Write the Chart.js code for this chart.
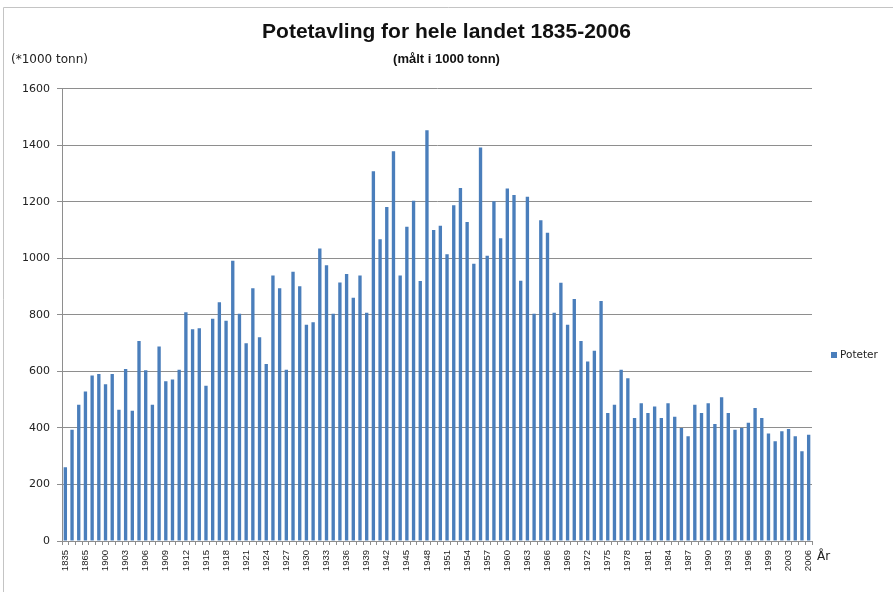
<!DOCTYPE html>
<html>
<head>
<meta charset="utf-8">
<script src="https://cdn.jsdelivr.net/npm/chart.js@4"></script>
<style>
    body { margin: 0; background: #fff; }
    #wrap { width: 893px; height: 592px; }
</style>
</head>
<body>
<div id="wrap"><canvas id="potet-chart" width="893" height="592"></canvas></div>
<script>
// ===== DATA =====
const years = [
    '1835', '1845', '1855', '1865', '1875', '1890',
    '1900', '1901', '1902', '1903', '1904', '1905', '1906', '1907', '1908', '1909',
    '1910', '1911', '1912', '1913', '1914', '1915', '1916', '1917', '1918', '1919',
    '1920', '1921', '1922', '1923', '1924', '1925', '1926', '1927', '1928', '1929',
    '1930', '1931', '1932', '1933', '1934', '1935', '1936', '1937', '1938', '1939',
    '1940', '1941', '1942', '1943', '1944', '1945', '1946', '1947', '1948', '1949',
    '1950', '1951', '1952', '1953', '1954', '1955', '1956', '1957', '1958', '1959',
    '1960', '1961', '1962', '1963', '1964', '1965', '1966', '1967', '1968', '1969',
    '1970', '1971', '1972', '1973', '1974', '1975', '1976', '1977', '1978', '1979',
    '1980', '1981', '1982', '1983', '1984', '1985', '1986', '1987', '1988', '1989',
    '1990', '1991', '1992', '1993', '1994', '1995', '1996', '1997', '1998', '1999',
    '2001', '2002', '2003', '2004', '2005', '2006'
];

// harvest in 1000 tonn
const poteter = [
    261, 394, 482, 529, 586, 591,
    555, 591, 464, 609, 461, 708, 604, 482, 688, 565,
    571, 606, 809, 749, 753, 549, 786, 845, 779, 992,
    804, 700, 894, 721, 626, 939, 894, 606, 953, 901,
    765, 774, 1035, 976, 804, 915, 945, 861, 939, 808,
    1308, 1068, 1182, 1379, 939, 1112, 1204, 920, 1453, 1100,
    1115, 1015, 1188, 1249, 1129, 981, 1392, 1009, 1202, 1071,
    1247, 1224, 921, 1218, 804, 1135, 1091, 808, 914, 765,
    856, 708, 635, 673, 849, 453, 482, 606, 576, 435,
    487, 453, 476, 435, 487, 440, 400, 371, 482, 453,
    487, 414, 509, 453, 394, 400, 418, 471, 435, 380,
    353, 388, 396, 371, 318, 376
];

const yTicks = [0, 200, 400, 600, 800, 1000, 1200, 1400, 1600];

const BAR_BLUE = '#4a7ebb';
const GRID_GREY = '#8e8e8e';

// ===== EXTRA TEXT (unit, axis name, legend) =====
const extrasPlugin = {
    id: 'extras',
    afterDraw(chart) {
        const ctx = chart.ctx;
        ctx.save();
        // thin frame, top and left like the original
        ctx.strokeStyle = '#c4c4c4';
        ctx.lineWidth = 1;
        ctx.beginPath();
        ctx.moveTo(3.5, 592);
        ctx.lineTo(3.5, 7.5);
        ctx.lineTo(893, 7.5);
        ctx.stroke();

        ctx.fillStyle = '#222';
        ctx.textBaseline = 'middle';
        ctx.textAlign = 'left';
        ctx.font = '12px "DejaVu Sans"';
        ctx.fillText('(*1000 tonn)', 11, 60);

        ctx.fillText('År', 817, 557);

        // legend
        ctx.fillStyle = BAR_BLUE;
        ctx.fillRect(831, 352, 6, 6);
        ctx.fillStyle = '#222';
        ctx.font = '10.5px "DejaVu Sans"';
        ctx.fillText('Poteter', 840, 355.5);
        ctx.restore();
    }
};

const ctx = document.getElementById('potet-chart').getContext('2d');

new Chart(ctx, {
    type: 'bar',
    data: {
        labels: years,
        datasets: [{
            label: 'Poteter',
            data: poteter,
            backgroundColor: BAR_BLUE,
            borderWidth: 0,
            categoryPercentage: 1,
            barPercentage: 0.5
        }]
    },
    options: {
        responsive: false,
        animation: false,
        layout: {
            padding: 0
        },
        plugins: {
            legend: { display: false },
            tooltip: { enabled: false },
            title: {
                display: true,
                text: 'Potetavling for hele landet 1835-2006',
                color: '#111',
                font: { family: '"Liberation Sans"', size: 21, weight: 'bold', lineHeight: 1.2 },
                padding: { top: 20, bottom: 3 }
            },
            subtitle: {
                display: true,
                text: '(målt i 1000 tonn)',
                color: '#111',
                font: { family: '"Liberation Sans"', size: 13, weight: 'bold', lineHeight: 1.2 },
                padding: { top: 3, bottom: 22 }
            }
        },
        scales: {
            x: {
                grid: {
                    display: true,
                    drawOnChartArea: false,
                    drawTicks: true,
                    tickLength: 4,
                    color: GRID_GREY,
                    offset: true
                },
                border: { display: true, color: GRID_GREY },
                ticks: {
                    autoSkip: false,
                    maxRotation: 90,
                    minRotation: 90,
                    padding: 5,
                    color: '#222',
                    font: { family: '"Liberation Sans"', size: 9.5 },
                    callback: function(value, index) {
                        return index % 3 === 0 ? this.getLabelForValue(value) : '';
                    }
                },
                afterFit(scale) { scale.height = 51; }
            },
            y: {
                min: 0,
                max: 1600,
                afterBuildTicks(scale) {
                    scale.ticks = yTicks.map(v => ({ value: v }));
                },
                grid: {
                    color: GRID_GREY,
                    tickLength: 5,
                    drawTicks: true
                },
                border: { display: true, color: GRID_GREY },
                ticks: {
                    padding: 7,
                    color: '#222',
                    font: { family: '"DejaVu Sans"', size: 11 },
                    callback: value => String(value)
                },
                afterFit(scale) { scale.width = 62; }
            },
            // empty strip on the right where the legend sits
            legendSpace: {
                position: 'right',
                min: 0,
                max: 1600,
                grid: { display: false },
                border: { display: false },
                ticks: { display: false },
                afterFit(scale) { scale.width = 81; }
            }
        }
    },
    plugins: [extrasPlugin]
});
</script>
</body>
</html>
